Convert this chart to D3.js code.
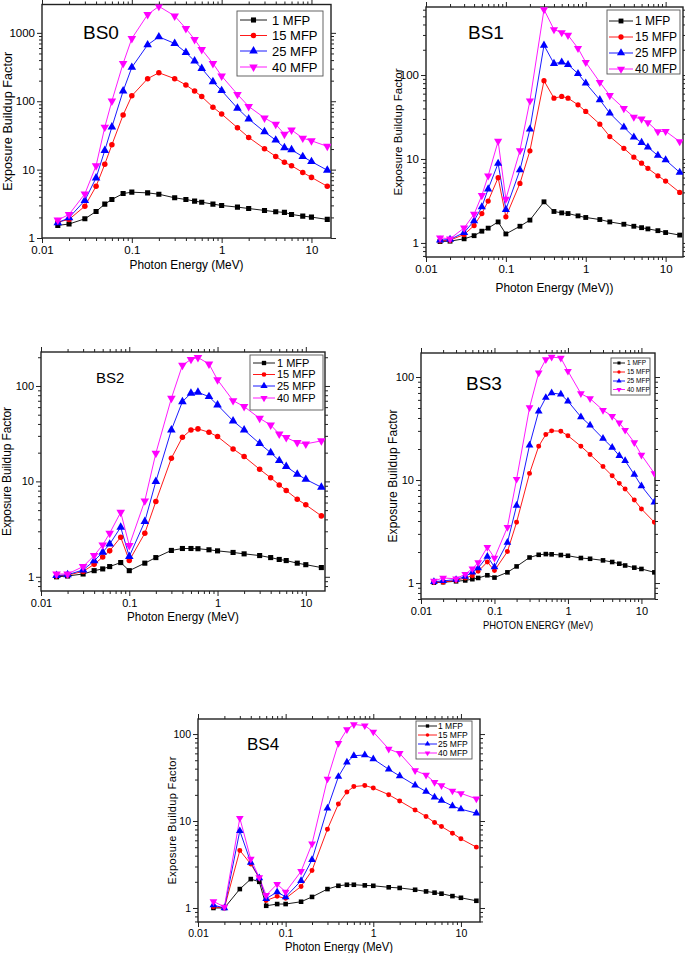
<!DOCTYPE html>
<html><head><meta charset="utf-8">
<script src="https://cdn.jsdelivr.net/npm/d3@7"></script>
<style>
body{margin:0;background:#fff}
svg{display:block}
text{font-family:"Liberation Sans",Arial,sans-serif;fill:#000}
</style>
</head><body><svg id="c" width="685" height="953"></svg>
<script>
// ---------- DATA ----------
const energy = [0.015,0.02,0.03,0.04,0.05,0.06,0.08,0.1,0.15,0.2,0.3,0.4,0.5,0.6,0.8,1,1.5,2,3,4,5,6,8,10,15];
const seriesNames = ["1 MFP","15 MFP","25 MFP","40 MFP"];
const panelNames = ["BS0","BS1","BS2","BS3","BS4"];
const xTickValues = [0.01,0.1,1,10];
const xTickLabels = ["0.01","0.1","1","10"];
const yTickValuesBS0 = [1,10,100,1000];
const yTickLabelsBS0 = ["1","10","100","1000"];
const yTickValues = [1,10,100];
const yTickLabels = ["1","10","100"];
const xTitles = ["Photon Energy (MeV)","Photon Energy (MeV))","Photon Energy (MeV)","PHOTON ENERGY (MeV)","Photon Energy (MeV)"];
const yTitle = "Exposure Buildup Factor";

const bs0_1  = [1.53,1.6,1.91,2.44,3.13,3.66,4.47,4.68,4.57,4.37,3.87,3.66,3.46,3.34,3.13,2.99,2.83,2.7,2.53,2.42,2.37,2.21,2.09,2.02,1.87];
const bs0_15 = [1.71,1.87,2.92,5.7,12.0,23.1,63,120,214,261,214,173,141,117,82,65,41,29.6,20.2,15.6,12.8,11.4,9.1,7.7,5.7];
const bs0_25 = [1.67,1.98,3.54,7.56,19.1,42,141,313,668,875,700,517,387,302,193,143,79,55,35.7,27,20.9,19.5,15.5,13.1,9.8];
const bs0_40 = [1.83,2.21,4.42,11.4,41.8,101,357,827,1850,2445,1770,1156,800,572,357,234,126,84,57,46,33,38,28.9,26.4,21.9];

const bs1_1  = [1.04,1.05,1.12,1.22,1.38,1.5,1.78,1.28,1.58,1.87,3.09,2.37,2.28,2.24,2.1,2.01,1.9,1.78,1.67,1.58,1.52,1.47,1.4,1.33,1.24];
const bs1_15 = [1.06,1.08,1.26,1.61,2.24,3.15,5.98,2.05,5.12,12.5,85.5,53,55.6,53,44.2,36.8,26,18.5,13.4,10.5,8.9,7.73,6.31,5.46,4.0];
const bs1_25 = [1.08,1.1,1.33,1.83,2.69,4.38,8.87,2.5,7.39,22.6,226,137,142,133,104,80,50.7,35.1,23.9,18.2,15.7,13.8,11,9.73,6.93];
const bs1_40 = [1.15,1.12,1.51,2.2,3.68,6.3,16.3,3.33,12.6,49.3,603,348,321,298,208,142,82,57.1,40,31.5,30,27.2,21.2,21.4,16.1];

const bs2_1  = [1.0,1.02,1.07,1.16,1.21,1.28,1.41,1.16,1.39,1.59,1.89,1.98,1.98,1.97,1.92,1.87,1.8,1.74,1.67,1.59,1.52,1.48,1.39,1.34,1.25];
const bs2_15 = [1.02,1.04,1.14,1.35,1.61,1.87,2.6,1.48,2.86,6.15,17.5,29,34.6,35.5,32.7,29.5,21.9,18.2,13.4,10.9,9.19,8.02,6.5,5.68,4.35];
const bs2_25 = [1.03,1.05,1.18,1.47,1.81,2.2,3.31,1.63,3.8,9.96,34.6,68.5,83.8,85.8,77.3,63.2,43,34.6,24.9,20,16.5,14.3,11.9,10.5,8.69];
const bs2_40 = [1.07,1.07,1.28,1.67,2.16,2.86,4.75,2.13,6.25,19.7,74.3,165,190,199,170,116,70.2,60.8,45.8,39,31.4,28.8,25.5,24.7,26.6];

const bs3_1  = [1.01,1.02,1.04,1.06,1.09,1.12,1.19,1.13,1.27,1.45,1.77,1.88,1.91,1.9,1.87,1.84,1.75,1.72,1.66,1.6,1.54,1.48,1.41,1.37,1.27];
const bs3_15 = [1.02,1.02,1.06,1.12,1.18,1.3,1.6,1.32,2.02,3.89,11.6,21.3,27.7,30,29.8,26.9,21.3,17.7,13.5,11,9.28,8.18,6.4,5.24,3.89];
const bs3_25 = [1.03,1.05,1.08,1.16,1.27,1.4,1.81,1.43,2.47,5.65,21.8,46.5,63.1,70,68,58.2,41,34,25.3,20.7,17.2,15.4,11.3,8.75,6.08];
const bs3_40 = [1.05,1.12,1.1,1.22,1.38,1.58,2.23,1.75,3.48,10.2,50.5,110,148,156,153,114,69,61.7,47.6,41.6,35.9,30.5,23.1,17.5,11.6];

const bs4_1  = [1.0,1.0,1.65,2.15,2.0,1.06,1.11,1.11,1.18,1.34,1.65,1.8,1.85,1.85,1.82,1.8,1.73,1.7,1.62,1.55,1.5,1.46,1.37,1.31,1.21];
const bs4_15 = [1.03,1.0,4.59,3.2,2.21,1.22,1.36,1.29,1.77,2.7,8.06,15.7,21.6,24.9,25.6,24,20.1,17,13.4,11.3,9.6,8.65,7.25,6.24,5.01];
const bs4_25 = [1.08,1.0,7.71,3.34,2.21,1.28,1.53,1.34,2.06,3.58,14,32.4,47.3,56.4,57.4,51.7,39.3,33,25.8,21.8,18.8,17.2,14.9,13.7,12.3];
const bs4_40 = [1.19,1.03,10.8,3.65,2.25,1.4,1.88,1.53,2.64,5.47,30.5,78.2,113,129,125,106,67.3,60,38,33.9,27.9,25.6,22.2,20.8,18];

// ---------- STYLE / LAYOUT ----------
const colors = ["#000000","#ff0000","#0000ff","#ff00ff"];
const symbols = [d3.symbolSquare, d3.symbolCircle, d3.symbolTriangle, d3.symbolTriangle];
const rotations = [0,0,0,180];

const panels = [
  {data:[bs0_1,bs0_15,bs0_25,bs0_40], yTicks:yTickValuesBS0, yLabels:yTickLabelsBS0,
   l:42,r:331,t:4.5,b:238, xDom:[0.01,16.5], yDom:[1,2600],
   tickFont:11.5, xTitleY:269, xTitleFont:12, xTitleLen:114, yTitleX:12, yTitleLen:139, yTitleFont:12.5,
   lab:{x:83,y:39,size:19},
   leg:{x:237,y:11,w:86,h:65,rows:[20,35.5,51,67],l1:240,l2:267,tx:272,font:13,ms:1},
   ms:1},
  {data:[bs1_1,bs1_15,bs1_25,bs1_40], yTicks:yTickValues, yLabels:yTickLabels,
   l:426,r:683,t:7,b:257, xDom:[0.01,16.5], yDom:[0.68,646],
   tickFont:11.5, xTitleY:292, xTitleFont:12, xTitleLen:118, yTitleX:402, yTitleLen:127, yTitleFont:11.5,
   lab:{x:468,y:39,size:19},
   leg:{x:607,y:10,w:73,h:64,rows:[21,37,53,69],l1:609,l2:633,tx:635,font:12,ms:0.95},
   ms:0.95},
  {data:[bs2_1,bs2_15,bs2_25,bs2_40], yTicks:yTickValues, yLabels:yTickLabels,
   l:41,r:325,t:352,b:591, xDom:[0.01,16.5], yDom:[0.71,227],
   tickFont:11, xTitleY:621, xTitleFont:12, xTitleLen:112, yTitleX:11, yTitleLen:129, yTitleFont:12,
   lab:{x:96,y:383,size:15},
   leg:{x:250,y:355,w:73,h:55,rows:[363,374.5,386,398],l1:253,l2:275,tx:277,font:11,ms:0.85},
   ms:1},
  {data:[bs3_1,bs3_15,bs3_25,bs3_40], yTicks:yTickValues, yLabels:yTickLabels,
   l:421,r:655,t:353,b:599, xDom:[0.01,15.3], yDom:[0.70,171],
   tickFont:11, xTitleY:629, xTitleFont:11.5, xTitleLen:110, yTitleX:397, yTitleLen:133, yTitleFont:12,
   lab:{x:466,y:390,size:19},
   leg:{x:611,y:358,w:39,h:37,rows:[363,372,381,389.5],l1:613,l2:625,tx:627,font:6.5,ms:0.6},
   ms:0.9},
  {data:[bs4_1,bs4_15,bs4_25,bs4_40], yTicks:yTickValues, yLabels:yTickLabels,
   l:198,r:480,t:719,b:922, xDom:[0.01,16.5], yDom:[0.69,149],
   tickFont:10.5, xTitleY:951, xTitleFont:12, xTitleLen:108, yTitleX:176, yTitleLen:128, yTitleFont:11,
   lab:{x:247,y:750,size:17},
   leg:{x:416,y:721,w:56,h:38,rows:[726,735,744,753],l1:418,l2:437,tx:438,font:8.5,ms:0.65},
   ms:0.9}
];

const svg = d3.select("#c");

function drawMarker(g, i, x, y, scale){
  const base = [26, 24, 32, 32][i]*scale*scale;
  g.append("path")
    .attr("d", d3.symbol().type(symbols[i]).size(base)())
    .attr("transform", `translate(${x},${y}) rotate(${rotations[i]})`)
    .attr("fill", colors[i]).attr("stroke","none");
}

panels.forEach((p, pi) => {
  const g = svg.append("g");
  const x = d3.scaleLog().domain(p.xDom).range([p.l, p.r]);
  const y = d3.scaleLog().domain(p.yDom).range([p.b, p.t]);

  const minorX = [], minorY = [];
  for (let d=-3; d<=2; d++) for (let k=2;k<=9;k++){ const v=k*Math.pow(10,d);
    if (v>p.xDom[0] && v<p.xDom[1]) minorX.push(v);
    if (v>p.yDom[0] && v<p.yDom[1]) minorY.push(v); }

  // bottom
  const bx = d3.axisBottom(x).tickValues(xTickValues).tickFormat((d,i)=>xTickLabels[i]).tickSize(5).tickPadding(3).tickSizeOuter(0);
  const gb = g.append("g").attr("transform",`translate(0,${p.b})`).call(bx);
  gb.selectAll("text").attr("font-size",p.tickFont).style("font-family","Liberation Sans, Arial");
  g.append("g").attr("transform",`translate(0,${p.b})`).call(d3.axisBottom(x).tickValues(minorX).tickFormat("").tickSize(3).tickSizeOuter(0));
  // top
  g.append("g").attr("transform",`translate(0,${p.t})`).call(d3.axisTop(x).tickValues(xTickValues).tickFormat("").tickSize(5).tickSizeOuter(0));
  g.append("g").attr("transform",`translate(0,${p.t})`).call(d3.axisTop(x).tickValues(minorX).tickFormat("").tickSize(3).tickSizeOuter(0));
  // left
  const ly = d3.axisLeft(y).tickValues(p.yTicks).tickFormat((d,i)=>p.yLabels[i]).tickSize(5).tickPadding(2).tickSizeOuter(0);
  const gl = g.append("g").attr("transform",`translate(${p.l},0)`).call(ly);
  gl.selectAll("text").attr("font-size",p.tickFont).style("font-family","Liberation Sans, Arial");
  g.append("g").attr("transform",`translate(${p.l},0)`).call(d3.axisLeft(y).tickValues(minorY).tickFormat("").tickSize(3).tickSizeOuter(0));
  // right
  g.append("g").attr("transform",`translate(${p.r},0)`).call(d3.axisRight(y).tickValues(p.yTicks).tickFormat("").tickSize(5).tickSizeOuter(0));
  g.append("g").attr("transform",`translate(${p.r},0)`).call(d3.axisRight(y).tickValues(minorY).tickFormat("").tickSize(3).tickSizeOuter(0));
  g.selectAll(".domain").remove();
  g.selectAll(".tick line").attr("stroke","#222").attr("stroke-width",1);

  // frame
  g.append("rect").attr("x",p.l).attr("y",p.t).attr("width",p.r-p.l).attr("height",p.b-p.t)
    .attr("fill","none").attr("stroke","#222").attr("stroke-width",1.4);

  // clip
  const cid = "clip"+pi;
  g.append("clipPath").attr("id",cid).append("rect")
    .attr("x",p.l).attr("y",p.t).attr("width",p.r-p.l).attr("height",p.b-p.t);
  const plot = g.append("g").attr("clip-path",`url(#${cid})`);

  const line = d3.line().x((d,i)=>x(energy[i])).y(d=>y(d));
  p.data.forEach((s, si) => {
    plot.append("path").datum(s).attr("d",line).attr("fill","none")
      .attr("stroke",colors[si]).attr("stroke-width",0.9);
  });
  p.data.forEach((s, si) => {
    s.forEach((v,i)=> drawMarker(plot, si, x(energy[i]), y(v), p.ms));
  });

  // panel label
  g.append("text").attr("x",p.lab.x).attr("y",p.lab.y).attr("font-size",p.lab.size).text(panelNames[pi]);

  // axis titles
  g.append("text").attr("x",(p.l+p.r)/2).attr("y",p.xTitleY).attr("text-anchor","middle")
    .attr("font-size",p.xTitleFont).attr("textLength",p.xTitleLen).attr("lengthAdjust","spacingAndGlyphs")
    .text(xTitles[pi]);
  g.append("text").attr("transform",`translate(${p.yTitleX},${(p.t+p.b)/2}) rotate(-90)`)
    .attr("text-anchor","middle").attr("font-size",p.yTitleFont)
    .attr("textLength",p.yTitleLen).attr("lengthAdjust","spacing")
    .text(yTitle);

  // legend
  const L = p.leg;
  g.append("rect").attr("x",L.x).attr("y",L.y).attr("width",L.w).attr("height",L.h)
    .attr("fill","#fff").attr("stroke","#555").attr("stroke-width",0.9);
  seriesNames.forEach((nm, si) => {
    const yy = L.rows[si];
    g.append("line").attr("x1",L.l1).attr("x2",L.l2).attr("y1",yy).attr("y2",yy)
      .attr("stroke",colors[si]).attr("stroke-width",0.9);
    drawMarker(g, si, (L.l1+L.l2)/2, yy, L.ms);
    g.append("text").attr("x",L.tx).attr("y",yy).attr("dy","0.36em")
      .attr("font-size",L.font).text(nm);
  });
});
</script>
</body></html>
